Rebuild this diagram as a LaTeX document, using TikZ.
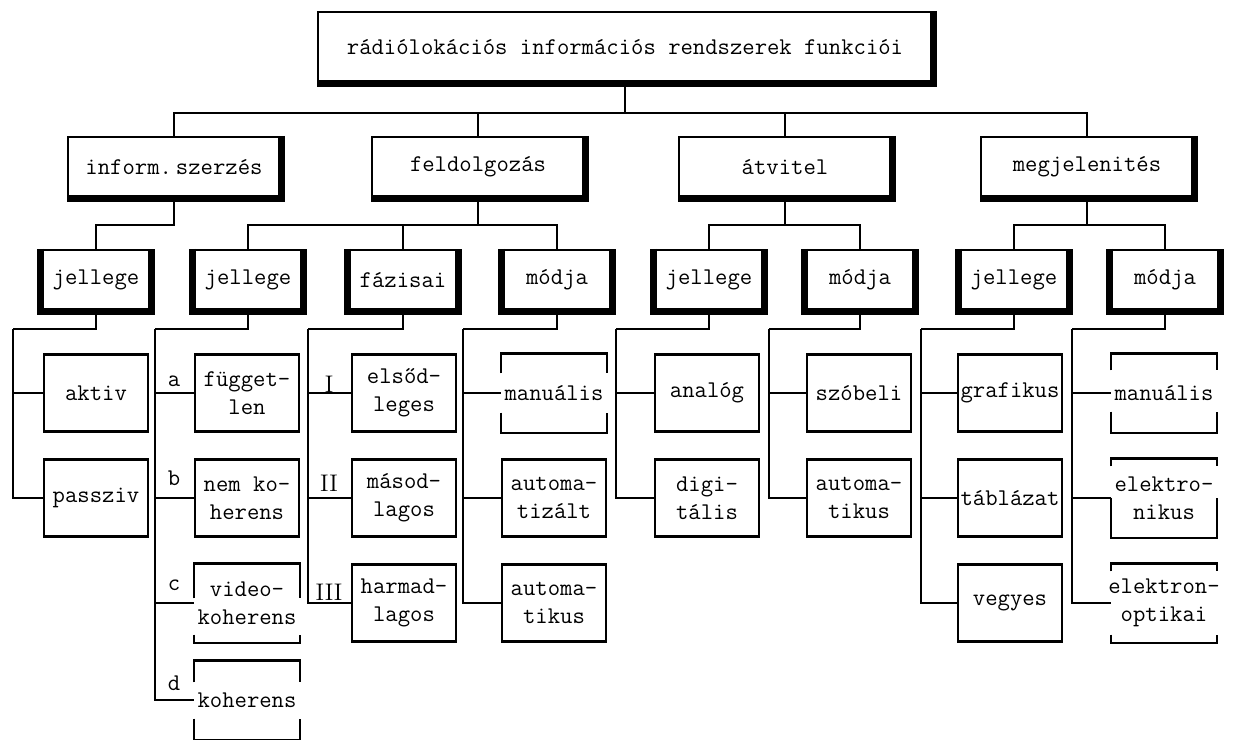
\documentclass[tikz,border=0pt]{standalone}
\usepackage{fontspec}

\tikzset{
  betu/.style={font=\fontsize{12}{14}\selectfont\ttfamily},
  doboz/.style={betu, draw, line width=1.2pt, inner sep=0pt, align=center},
  cimdoboz/.style={doboz, minimum width=307pt, minimum height=35pt},
  fodoboz/.style={doboz, minimum width=106pt, minimum height=30pt},
  aldoboz/.style={doboz, minimum width=54pt, minimum height=30pt},
  levdoboz/.style={doboz, minimum width=52pt, minimum height=38.5pt},
  nyitott/.style={levdoboz, draw=none},
  jel/.style={betu},
  romai/.style={font=\fontsize{12}{14}\selectfont\rmfamily},
  vonal/.style={line width=0.9pt},
  keret/.style={line width=1.2pt},
  arnyek/.style={line width=3.5pt}
}
% doboz, amelynek oldalai csak reszben vannak meg
\newcommand{\nyitottkeret}[3]{%
  \draw[keret] (#1.north west) ++(0,#2) |- (#1.north east) -- ++(0,#2);
  \draw[keret] (#1.south west) ++(0,-#3) |- (#1.south east) -- ++(0,-#3);}

\begin{document}
\begin{tikzpicture}[x=0.5pt, y=-0.5pt]
  \useasboundingbox (0,0) rectangle (1239,740);

  \node[cimdoboz] (funkc) at (625,47) {rádiólokációs információs rendszerek funkciói};

  \node[fodoboz] (szerz) at (174,167) {inform.\,szerzés};
  \node[fodoboz] (feld) at (478,167) {feldolgozás};
  \node[fodoboz] (atvit) at (785,167) {átvitel};
  \node[fodoboz] (megj) at (1087,167) {megjelenités};

  \node[aldoboz] (szerzJ) at (96,280) {jellege};
  \node[aldoboz] (feldJ) at (248,280) {jellege};
  \node[aldoboz] (feldF) at (403,280) {fázisai};
  \node[aldoboz] (feldM) at (557,280) {módja};
  \node[aldoboz] (atvJ) at (709,280) {jellege};
  \node[aldoboz] (atvM) at (860,280) {módja};
  \node[aldoboz] (megjJ) at (1014,280) {jellege};
  \node[aldoboz] (megjM) at (1165,280) {módja};

  % levelek
  \node[levdoboz] (aktiv) at (96,393) {aktiv};
  \node[levdoboz] (passziv) at (96,498) {passziv};

  \node[levdoboz] (fuggetlen) at (247,393) {függet-\\len};
  \node[levdoboz] (nemkoh) at (247,498) {nem ko-\\herens};
  \node[nyitott] (videokoh) at (247,603) {video-\\koherens};
  \node[nyitott] (koh) at (247,700) {koherens};

  \node[levdoboz] (elsod) at (404,393) {elsőd-\\leges};
  \node[levdoboz] (masod) at (404,498) {másod-\\lagos};
  \node[levdoboz] (harmad) at (404,603) {harmad-\\lagos};

  \node[nyitott] (feldMan) at (554,393) {manuális};
  \node[levdoboz] (automatiz) at (554,498) {automa-\\tizált};
  \node[levdoboz] (feldAuto) at (554,603) {automa-\\tikus};

  \node[levdoboz] (analog) at (707,393) {analóg};
  \node[levdoboz] (digit) at (707,498) {digi-\\tális};

  \node[levdoboz] (szobeli) at (859,393) {szóbeli};
  \node[levdoboz] (atvAuto) at (859,498) {automa-\\tikus};

  \node[levdoboz] (grafikus) at (1010,393) {grafikus};
  \node[levdoboz] (tablazat) at (1010,498) {táblázat};
  \node[levdoboz] (vegyes) at (1010,603) {vegyes};

  \node[nyitott] (megjMan) at (1164,393) {manuális};
  \node[nyitott] (elektr) at (1164,498) {elektro-\\nikus};
  \node[nyitott] (elopt) at (1164,603) {\makebox[0pt]{elektron-}\\optikai};

  \nyitottkeret{videokoh}{35}{8}
  \nyitottkeret{koh}{22}{21}
  \nyitottkeret{feldMan}{20}{20}
  \nyitottkeret{megjMan}{17}{21}
  \nyitottkeret{elektr}{8}{40}
  \nyitottkeret{elopt}{8}{8}

  \node[jel] (la) at (174,381) {a};
  \node[jel] (lb) at (174,478) {b};
  \node[jel] (lc) at (174,585) {c};
  \node[jel] (ld) at (174,683) {d};
  \node[romai] (l1) at (329,384) {I};
  \node[romai] (l2) at (329,483) {II};
  \node[romai] (l3) at (329,592) {III};

  % osszekotok
  \coordinate (fo) at (625,113);
  \draw[vonal] (funkc) -- (fo);
  \foreach \n in {szerz,feld,atvit,megj} \draw[vonal] (fo) -| (\n);

  \coordinate (szerzB) at (174,225);
  \draw[vonal] (szerz) -- (szerzB) -| (szerzJ);
  \coordinate (feldB) at (478,225);
  \draw[vonal] (feld) -- (feldB);
  \foreach \n in {feldJ,feldF,feldM} \draw[vonal] (feldB) -| (\n);
  \coordinate (atvB) at (785,225);
  \draw[vonal] (atvit) -- (atvB);
  \foreach \n in {atvJ,atvM} \draw[vonal] (atvB) -| (\n);
  \coordinate (megjB) at (1087,225);
  \draw[vonal] (megj) -- (megjB);
  \foreach \n in {megjJ,megjM} \draw[vonal] (megjB) -| (\n);

  \coordinate (szerzJv) at (13,329);
  \draw[vonal] (szerzJ) |- (szerzJv);
  \foreach \n in {aktiv,passziv} \draw[vonal] (szerzJv) |- (\n);
  \coordinate (feldJv) at (155,329);
  \draw[vonal] (feldJ) |- (feldJv);
  \foreach \n in {fuggetlen,nemkoh,videokoh,koh} \draw[vonal] (feldJv) |- (\n);
  \coordinate (feldFv) at (308,329);
  \draw[vonal] (feldF) |- (feldFv);
  \foreach \n in {elsod,masod,harmad} \draw[vonal] (feldFv) |- (\n);
  \coordinate (feldMv) at (463,329);
  \draw[vonal] (feldM) |- (feldMv);
  \foreach \n in {feldMan,automatiz,feldAuto} \draw[vonal] (feldMv) |- (\n);
  \coordinate (atvJv) at (616,329);
  \draw[vonal] (atvJ) |- (atvJv);
  \foreach \n in {analog,digit} \draw[vonal] (atvJv) |- (\n);
  \coordinate (atvMv) at (769,329);
  \draw[vonal] (atvM) |- (atvMv);
  \foreach \n in {szobeli,atvAuto} \draw[vonal] (atvMv) |- (\n);
  \coordinate (megjJv) at (921,329);
  \draw[vonal] (megjJ) |- (megjJv);
  \foreach \n in {grafikus,tablazat,vegyes} \draw[vonal] (megjJv) |- (\n);
  \coordinate (megjMv) at (1072,329);
  \draw[vonal] (megjM) |- (megjMv);
  \foreach \n in {megjMan,elektr,elopt} \draw[vonal] (megjMv) |- (\n);

  % vastag arnyek
  \foreach \n in {funkc,szerz,feld,atvit,megj}
    \draw[arnyek] (\n.north east) -- (\n.south east) -- (\n.south west);
  \foreach \n in {szerzJ,feldJ,feldF,feldM,atvJ,atvM,megjJ,megjM}
    \draw[arnyek] (\n.north west) -- (\n.south west) -- (\n.south east) -- (\n.north east);
\end{tikzpicture}
\end{document}
